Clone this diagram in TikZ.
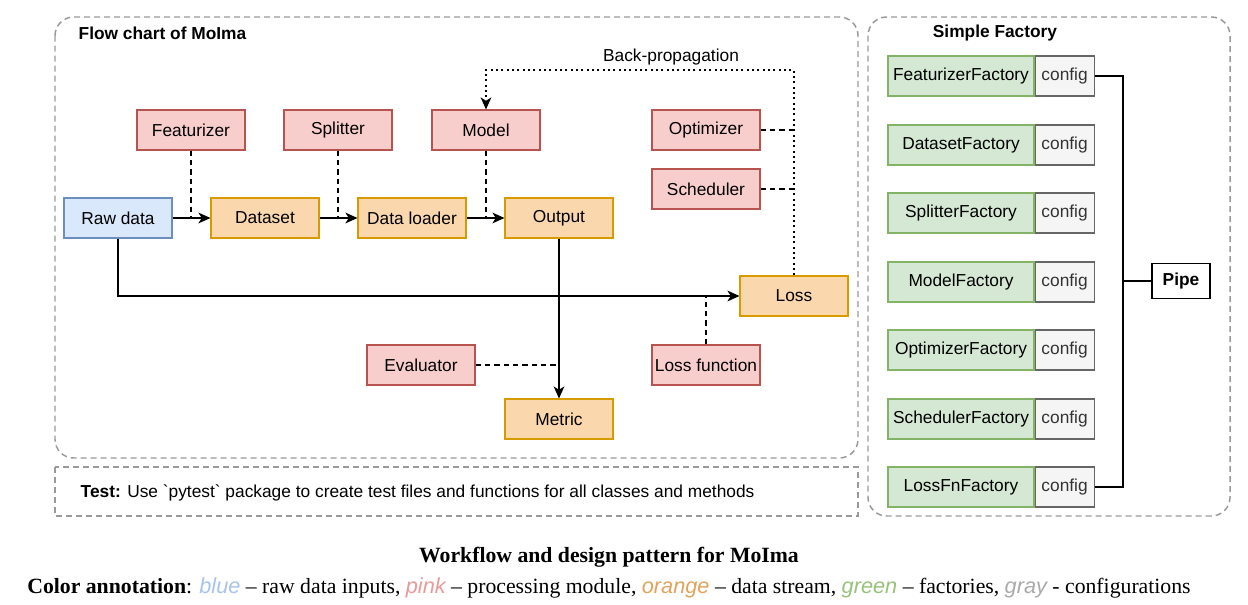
\documentclass[tikz,border=0pt]{standalone}
\usepackage{fontspec}
\setmainfont{Liberation Serif}
\setsansfont{Liberation Sans}
\usetikzlibrary{arrows.meta}
\definecolor{pinkf}{HTML}{F8CECC}\definecolor{pinkd}{HTML}{B85450}
\definecolor{orgf}{HTML}{FAD7AC}\definecolor{orgd}{HTML}{D79B00}
\definecolor{bluef}{HTML}{DAE8FC}\definecolor{blued}{HTML}{6C8EBF}
\definecolor{grnf}{HTML}{D5E8D4}\definecolor{grnd}{HTML}{82B366}
\definecolor{gryf}{HTML}{F5F5F5}\definecolor{gryd}{HTML}{666666}
\definecolor{frame}{HTML}{999999}
\definecolor{cblue}{HTML}{A9C4EB}\definecolor{cpink}{HTML}{EA9A9A}
\definecolor{corange}{HTML}{E2A35C}\definecolor{cgreen}{HTML}{97C27A}
\definecolor{cgray}{HTML}{AAAAAA}
\tikzset{
  lbl/.style={font=\sffamily\fontsize{13}{15}\selectfont},
  box/.style={lbl, draw, line width=0.8pt, minimum width=81pt, minimum height=30pt, inner sep=0pt},
  pinkbox/.style={box, fill=pinkf, draw=pinkd},
  orgbox/.style={box, fill=orgf, draw=orgd},
  bluebox/.style={box, fill=bluef, draw=blued},
  fact/.style={box, fill=grnf, draw=grnd, minimum width=109.5pt},
  cfg/.style={box, fill=gryf, draw=gryd, text=black!80, minimum width=44.25pt},
  frm/.style={draw=frame, line width=1.1pt, dash pattern=on 4.5pt off 3pt},
  conn/.style={line width=1.5pt},
  arr/.style={conn, -{Stealth[length=9pt,width=8pt,inset=2.5pt]}},
  dsh/.style={line width=1.5pt, dash pattern=on 4pt off 3pt},
  dot/.style={line width=1.5pt, dash pattern=on 1.5pt off 2.5pt},
}
\begin{document}
\begin{tikzpicture}[x=0.75pt,y=-0.75pt]
\useasboundingbox (0,0) rectangle (1248,605);
% frames
\draw[frm, rounded corners=14pt] (55,17) rectangle (858,458);
\draw[frm] (55,467) rectangle (858,516);
\draw[frm, rounded corners=14pt] (868,17) rectangle (1230,516);
\node[lbl, font=\sffamily\bfseries\fontsize{13}{15}\selectfont, anchor=west] (t1) at (74,33) {Flow chart of MoIma};
\node[lbl, font=\sffamily\bfseries\fontsize{13}{15}\selectfont] (t2) at (995,33) {Simple Factory};
\node[lbl, anchor=west] (test) at (76,493) {\textbf{Test:} Use \textasciigrave pytest\textasciigrave{} package to create test files and functions for all classes and methods};
% nodes
\node[pinkbox] (feat) at (191,130) {Featurizer};
\node[pinkbox] (split) at (338,130) {Splitter};
\node[pinkbox] (model) at (486,130) {Model};
\node[pinkbox] (opt) at (706,130) {Optimizer};
\node[pinkbox] (sched) at (706,189) {Scheduler};
\node[bluebox] (raw) at (118,218) {Raw data};
\node[orgbox] (ds) at (265,218) {Dataset};
\node[orgbox] (dl) at (412,218) {Data loader};
\node[orgbox] (out) at (559,218) {Output};
\node[orgbox] (loss) at (794,296) {Loss};
\node[pinkbox] (eval) at (421,365) {Evaluator};
\node[pinkbox] (lf) at (706,365) {Loss function};
\node[orgbox] (met) at (559,419) {Metric};
% connectors
\draw[arr] (raw) -- (ds);
\draw[arr] (ds) -- (dl);
\draw[arr] (dl) -- (out);
\draw[dsh] (feat.south) -- (feat.south |- raw.east);
\draw[dsh] (split.south) -- (split.south |- ds.east);
\draw[dsh] (model.south) -- (model.south |- dl.east);
\draw[arr] (raw.south) |- (loss.west);
\draw[arr] (out.south) -- (met.north);
\draw[dsh] (eval.east) -- (eval.east -| met.north);
\draw[dsh] (lf.north) -- (lf.north |- loss.west);
\coordinate (bpR) at (794,70);
\coordinate (bpL) at (486,70);
\draw[dot, -{Stealth[length=9pt,width=8pt,inset=2.5pt]}] (loss.north) -- (bpR) -- (bpL) -- (model.north);
\node[lbl] (bp) at (671,57) {Back-propagation};
\draw[dsh] (opt.east) -- (opt.east -| loss.north);
\draw[dsh] (sched.east) -- (sched.east -| loss.north);
% factories
\foreach \n/\t/\y in {f1/FeaturizerFactory/76, f2/DatasetFactory/145, f3/SplitterFactory/213, f4/ModelFactory/282, f5/OptimizerFactory/350, f6/SchedulerFactory/419, f7/LossFnFactory/487}{
  \node[fact] (\n) at (961,\y) {\t};
  \node[cfg, anchor=west] (\n c) at (\n.east) {config};
}
\node[box, font=\sffamily\bfseries\fontsize{13}{15}\selectfont, line width=1pt, minimum width=43.5pt, minimum height=26.25pt] (pipe) at (1181,281) {Pipe};
\coordinate (busT) at (1123,76);
\coordinate (busB) at (1123,487);
\draw[conn] (f1c.east) -- (busT) -- (busB) -- (f7c.east);
\draw[conn] (pipe.west) -- (pipe.west -| busT);
% caption
\node[font=\bfseries\fontsize{16.3}{19}\selectfont] (cap1) at (609,557) {Workflow and design pattern for MoIma};
\node[font=\fontsize{16.3}{19}\selectfont] (cap2) at (609,588) {\textbf{Color annotation}: {\color{cblue}\sffamily\itshape blue} – raw data inputs, {\color{cpink}\sffamily\itshape pink} – processing module, {\color{corange}\sffamily\itshape orange} – data stream, {\color{cgreen}\sffamily\itshape green} – factories, {\color{cgray}\sffamily\itshape gray} - configurations};
\end{tikzpicture}
\end{document}
